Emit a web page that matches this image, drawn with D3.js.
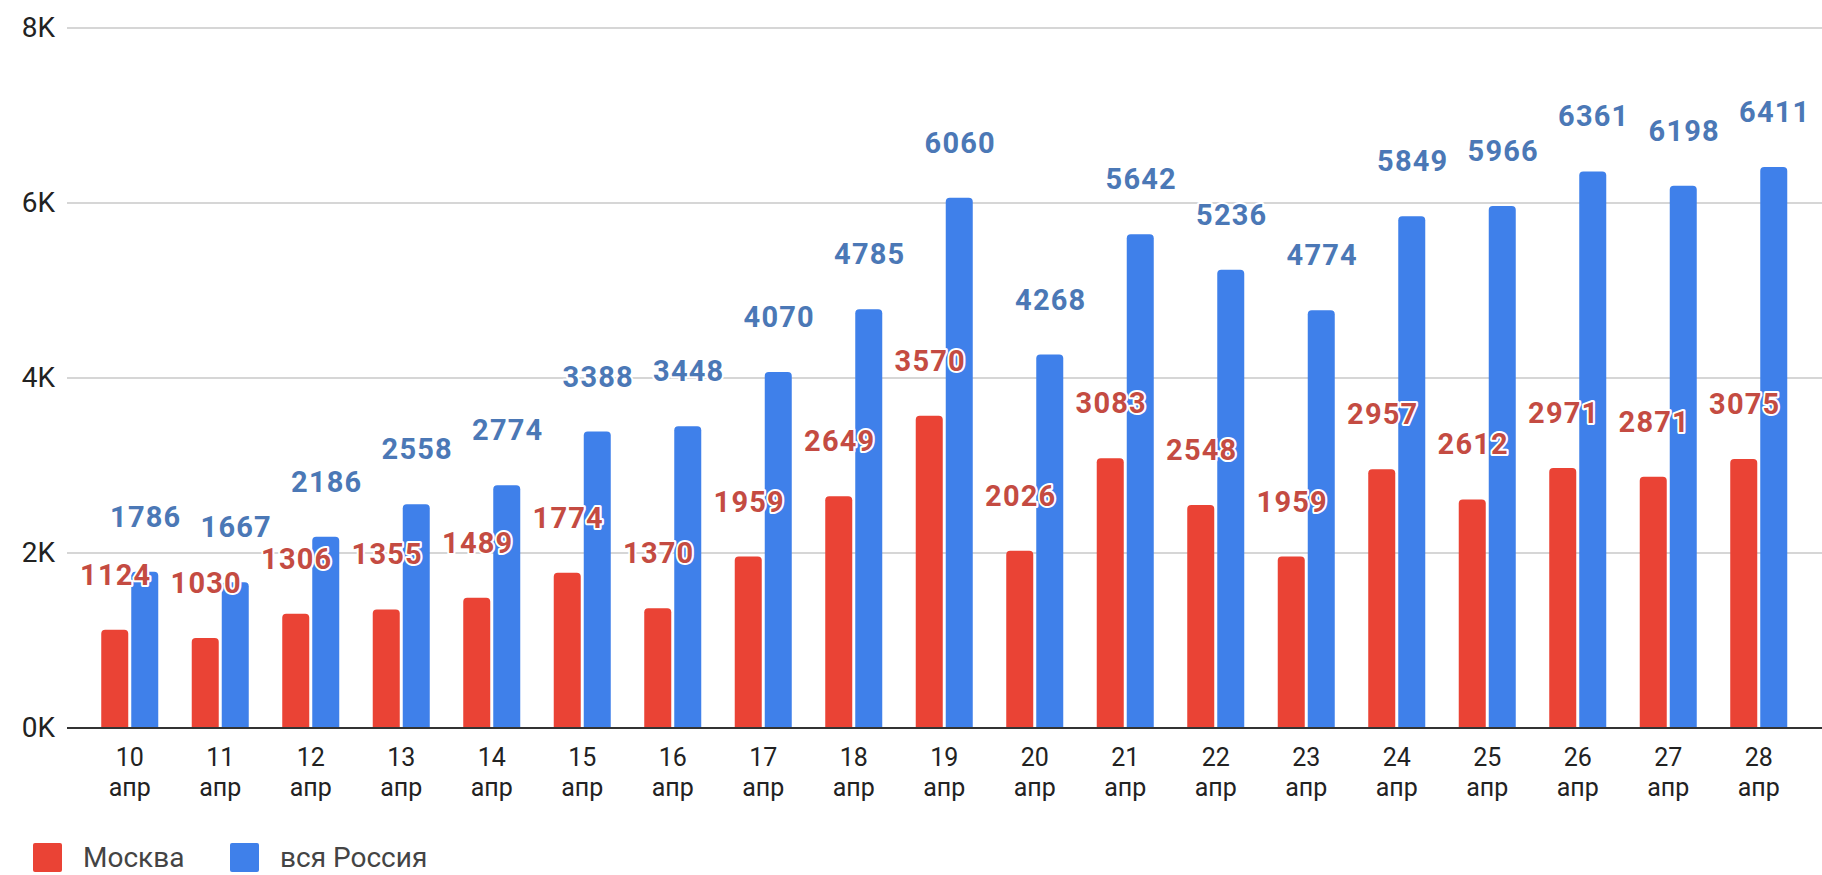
<!DOCTYPE html>
<html>
<head>
<meta charset="utf-8">
<script src="https://cdn.jsdelivr.net/npm/d3@7"></script>
<style>
  html, body { margin: 0; padding: 0; background: #fff; }
  svg { display: block; font-family: Roboto, Arial, sans-serif; }
</style>
</head>
<body>
<svg id="chart" width="1822" height="875"></svg>
<script>
// Daily new cases, 10–28 April
const days = ["10", "11", "12", "13", "14", "15", "16", "17", "18", "19",
              "20", "21", "22", "23", "24", "25", "26", "27", "28"];
const monthLabel = "апр";
const moscow = [1124, 1030, 1306, 1355, 1489, 1774, 1370, 1959, 2649, 3570,
                2026, 3083, 2548, 1959, 2957, 2612, 2971, 2871, 3075];
const russia = [1786, 1667, 2186, 2558, 2774, 3388, 3448, 4070, 4785, 6060,
                4268, 5642, 5236, 4774, 5849, 5966, 6361, 6198, 6411];
const seriesNames = ["Москва", "вся Россия"];
const yTicks = [0, 2000, 4000, 6000, 8000];

const colors = { bar: ["#ea4335", "#3f80ea"], label: ["#c44b42", "#4b78b6"] };

const svg = d3.select("#chart");

const y = d3.scaleLinear().domain([0, 8000]).range([728, 28]);

const x0 = d3.scaleBand().domain(days).range([84.5, 1804])
  .paddingInner(0.37).paddingOuter(0.185);
const x1 = d3.scaleBand().domain([0, 1]).range([0, x0.bandwidth()])
  .paddingInner(0.1).paddingOuter(0);

// Horizontal grid lines
const gridLeft = 67, gridRight = 1822;
svg.append("g").selectAll("line")
  .data(yTicks.filter(d => d > 0))
  .join("line")
  .attr("x1", gridLeft).attr("x2", gridRight)
  .attr("y1", d => y(d)).attr("y2", d => y(d))
  .attr("stroke", "#c8c8c8").attr("stroke-width", 1.5);

// Y axis tick labels
const yAxis = d3.axisLeft(y).tickValues(yTicks)
  .tickFormat(d => (d / 1000) + "K").tickSize(0).tickPadding(0);
svg.append("g").attr("transform", `translate(${gridLeft - 12},0)`)
  .call(yAxis)
  .call(g => g.select(".domain").remove())
  .call(g => g.selectAll("text")
    .attr("font-family", "Roboto, Arial, sans-serif")
    .attr("font-size", 28).attr("fill", "#222"));

// Bars with slightly rounded tops
function topRoundedBar(x, yTop, w, yBase, r) {
  r = Math.min(r, (yBase - yTop));
  return `M${x},${yBase}V${yTop + r}Q${x},${yTop} ${x + r},${yTop}` +
         `H${x + w - r}Q${x + w},${yTop} ${x + w},${yTop + r}V${yBase}Z`;
}

const rows = days.map((d, i) => ({ day: d, vals: [moscow[i], russia[i]] }));

const groups = svg.append("g").selectAll("g")
  .data(rows).join("g")
  .attr("transform", d => `translate(${x0(d.day)},0)`);

groups.selectAll("path")
  .data(d => d.vals.map((v, s) => ({ v, s })))
  .join("path")
  .attr("d", d => topRoundedBar(x1(d.s), y(d.v), x1.bandwidth(), y(0), 4))
  .attr("fill", d => colors.bar[d.s]);

// Baseline
svg.append("line")
  .attr("x1", gridLeft).attr("x2", gridRight)
  .attr("y1", y(0)).attr("y2", y(0))
  .attr("stroke", "#333").attr("stroke-width", 2);

// Value labels above the bars, with a white halo
const labels = svg.append("g");
[0, 1].forEach(s => {
  labels.append("g").selectAll("text")
    .data(rows).join("text")
    .attr("x", d => x0(d.day) + x1(s) + x1.bandwidth() / 2 + 1)
    .attr("y", d => y(d.vals[s]) - 45)
    .attr("text-anchor", "middle")
    .attr("font-family", "Roboto, Arial, sans-serif")
    .attr("font-weight", "bold")
    .attr("font-size", 29)
    .attr("letter-spacing", 1.2)
    .attr("fill", colors.label[s])
    .attr("stroke", "#fff").attr("stroke-width", 4)
    .attr("stroke-linejoin", "round")
    .attr("paint-order", "stroke")
    .text(d => d.vals[s]);
});

// X axis category labels: day number over month name
const xTicks = svg.append("g").selectAll("g")
  .data(days).join("g")
  .attr("transform", d => `translate(${x0(d) + x0.bandwidth() / 2},0)`)
  .attr("font-family", "Roboto, Arial, sans-serif")
  .attr("font-size", 25)
  .attr("fill", "#222")
  .attr("text-anchor", "middle");
xTicks.append("text").attr("y", 766).text(d => d);
xTicks.append("text").attr("y", 796).text(monthLabel);

// Legend
const legend = svg.append("g");
const legendX = [33, 230];
seriesNames.forEach((name, s) => {
  legend.append("rect")
    .attr("x", legendX[s]).attr("y", 843)
    .attr("width", 29).attr("height", 29).attr("rx", 2)
    .attr("fill", colors.bar[s]);
  legend.append("text")
    .attr("x", legendX[s] + 50).attr("y", 867)
    .attr("font-family", "Roboto, Arial, sans-serif")
    .attr("font-size", 28)
    .attr("fill", "#444")
    .text(name);
});
</script>
</body>
</html>
